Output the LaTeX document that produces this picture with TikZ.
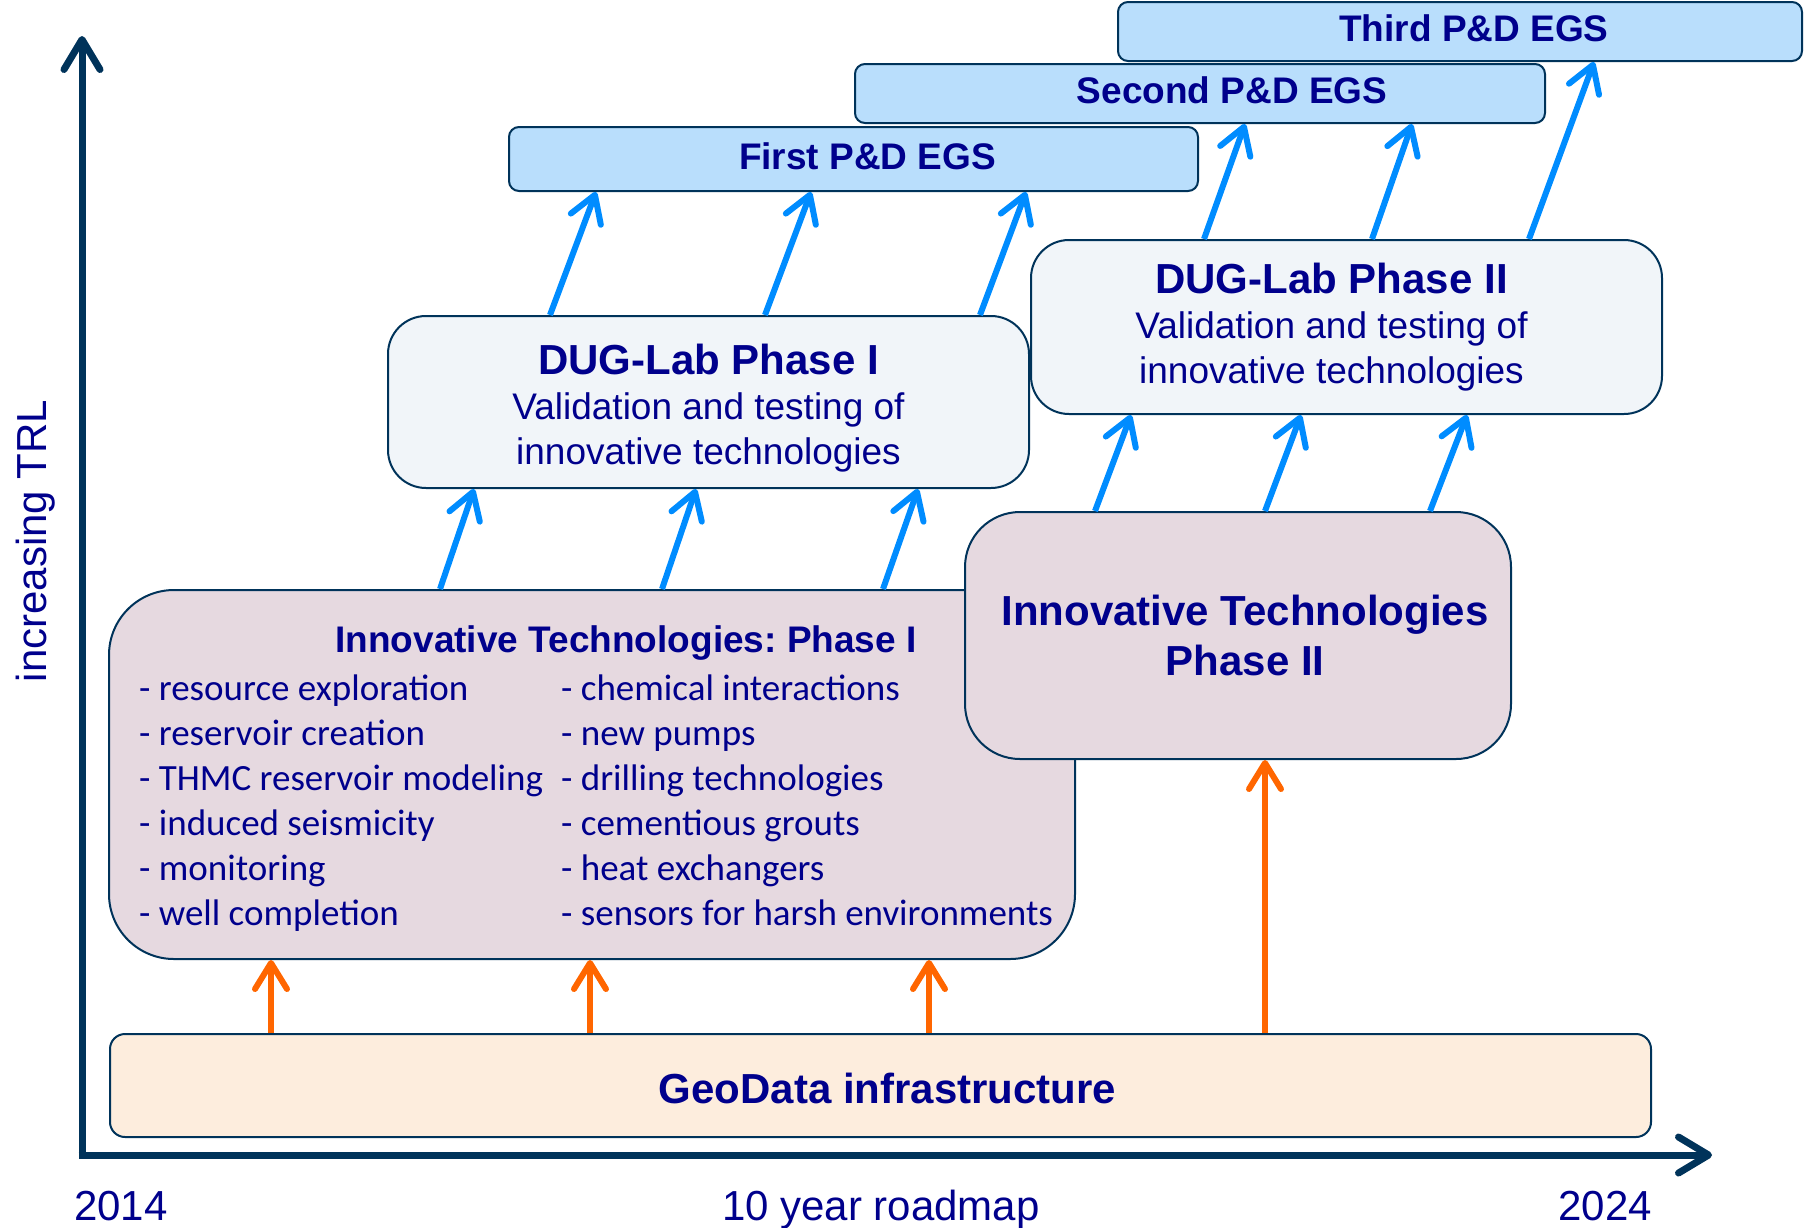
\documentclass[tikz,border=0pt]{standalone}
\usepackage{fontspec}
\setmainfont{Liberation Sans}
\newfontfamily\carlito{Carlito}
\frenchspacing
\usetikzlibrary{arrows.meta}
\definecolor{axisnavy}{RGB}{0,51,90}
\definecolor{labelblue}{RGB}{0,0,140}
\definecolor{egsblue}{RGB}{185,222,252}
\definecolor{labgrey}{RGB}{241,245,249}
\definecolor{techmauve}{RGB}{230,217,224}
\definecolor{geopeach}{RGB}{253,237,221}
\definecolor{arrowblue}{RGB}{0,140,255}
\definecolor{arroworange}{RGB}{255,102,0}
\begin{document}
\begin{tikzpicture}[x=1pt,y=-1pt,
    box/.style={draw=axisnavy,line width=2pt,inner sep=0pt,text=labelblue,align=center},
    egslabel/.style={text=labelblue,yshift=3pt,font=\fontsize{37}{45}\selectfont\bfseries},
    dugtext/.style={text=labelblue,align=center,font=\fontsize{37}{45}\selectfont},
    listtext/.style={text=labelblue,inner sep=0pt,align=left,font=\fontsize{37}{45}\selectfont\carlito},
    axislabel/.style={text=labelblue,inner sep=0pt,font=\fontsize{42}{50}\selectfont},
    axis/.style={axisnavy,line width=7pt},
    upblue/.style={arrowblue,line width=6pt,-{Straight Barb[length=26pt,width=32pt,round]}},
    uporange/.style={arroworange,line width=6pt,-{Straight Barb[length=26pt,width=32pt,round]}}]
\useasboundingbox (0,0) rectangle (1804,1227);
% axes
\draw[axis,-{Straight Barb[length=30pt,width=36pt,round]}] (82,1158.5) -- (82,36);
\draw[axis,-{Straight Barb[length=30pt,width=36pt,round]}] (78.5,1155) -- (1712,1155);
\node[axislabel,rotate=90,anchor=base] (trl) at (46,541) {increasing TRL};
\node[axislabel,anchor=base] (start) at (121,1220) {2014};
\node[axislabel,anchor=base] (span) at (881,1220) {10 year roadmap};
\node[axislabel,anchor=base] (finish) at (1605,1220) {2024};
% boxes
\node[box,fill=geopeach,minimum width=1541pt,minimum height=103pt,rounded corners=15pt,
      label={[text=labelblue,xshift=7pt,yshift=-3pt,font=\fontsize{42}{50}\selectfont\bfseries]center:GeoData infrastructure}] (geo) at (880.5,1085.5) {};
\node[box,fill=techmauve,minimum width=966pt,minimum height=369pt,rounded corners=65pt] (tech1) at (592,774.5) {};
\node[egslabel,yshift=-3pt] (tech1title) at (626,643) {Innovative Technologies: Phase I};
\node[listtext,anchor=north west] (tech1left) at (139,675) {- resource exploration\\- reservoir creation\\- THMC reservoir modeling\\- induced seismicity\\- monitoring\\- well completion};
\node[listtext,anchor=north west] (tech1right) at (561,675) {- chemical interactions\\- new pumps\\- drilling technologies\\- cementious grouts\\- heat exchangers\\- sensors for harsh environments};
\node[box,fill=techmauve,minimum width=546pt,minimum height=247pt,rounded corners=55pt,
      label={[text=labelblue,align=center,xshift=7pt,font=\fontsize{42}{50}\selectfont\bfseries]center:Innovative Technologies\\Phase II}] (tech2) at (1238,635.5) {};
\node[box,fill=labgrey,minimum width=641pt,minimum height=172pt,rounded corners=38pt,
      label={[dugtext,yshift=-6pt]center:{\fontsize{42}{50}\selectfont\bfseries DUG-Lab Phase I}\\Validation and testing of\\innovative technologies}] (dug1) at (708.5,402) {};
\node[box,fill=labgrey,minimum width=631pt,minimum height=174pt,rounded corners=38pt,
      label={[dugtext,xshift=-15pt]center:{\fontsize{42}{50}\selectfont\bfseries DUG-Lab Phase II}\\Validation and testing of\\innovative technologies}] (dug2) at (1346.5,327) {};
\node[box,fill=egsblue,minimum width=689pt,minimum height=64pt,rounded corners=10pt,
      label={[egslabel,xshift=14pt]center:First P\&D EGS}] (pd1) at (853.5,159) {};
\node[box,fill=egsblue,minimum width=690pt,minimum height=59pt,rounded corners=10pt,
      label={[egslabel,xshift=32pt]center:Second P\&D EGS}] (pd2) at (1200,93.5) {};
\node[box,fill=egsblue,minimum width=684pt,minimum height=59pt,rounded corners=10pt,
      label={[egslabel,xshift=14pt]center:Third P\&D EGS}] (pd3) at (1460,31.5) {};
% orange arrows
\draw[uporange] ([xshift=162pt]geo.north west) -- ([xshift=163pt]tech1.south west);
\draw[uporange] ([xshift=481pt]geo.north west) -- ([xshift=482pt]tech1.south west);
\draw[uporange] ([xshift=820pt]geo.north west) -- ([xshift=821pt]tech1.south west);
\draw[uporange] ([xshift=1156pt]geo.north west) -- ([xshift=301pt]tech2.south west);
% blue arrows
\draw[upblue] ([xshift=332pt]tech1.north west) -- ([xshift=87pt]dug1.south west);
\draw[upblue] ([xshift=554pt]tech1.north west) -- ([xshift=309pt]dug1.south west);
\draw[upblue] ([xshift=775pt]tech1.north west) -- ([xshift=531pt]dug1.south west);
\draw[upblue] ([xshift=163pt]dug1.north west) -- ([xshift=88pt]pd1.south west);
\draw[upblue] ([xshift=378pt]dug1.north west) -- ([xshift=303pt]pd1.south west);
\draw[upblue] ([xshift=593pt]dug1.north west) -- ([xshift=518pt]pd1.south west);
\draw[upblue] ([xshift=131pt]tech2.north west) -- ([xshift=101pt]dug2.south west);
\draw[upblue] ([xshift=301pt]tech2.north west) -- ([xshift=271pt]dug2.south west);
\draw[upblue] ([xshift=466pt]tech2.north west) -- ([xshift=437pt]dug2.south west);
\draw[upblue] ([xshift=174pt]dug2.north west) -- ([xshift=391pt]pd2.south west);
\draw[upblue] ([xshift=342pt]dug2.north west) -- ([xshift=558pt]pd2.south west);
\draw[upblue] ([xshift=499pt]dug2.north west) -- ([xshift=477pt]pd3.south west);
\end{tikzpicture}
\end{document}
